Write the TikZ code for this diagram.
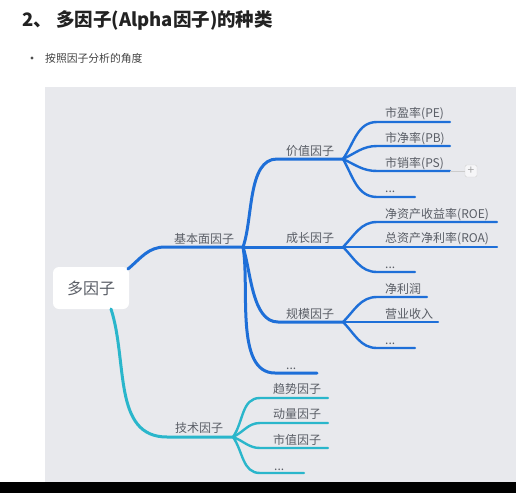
\documentclass[tikz,border=0pt]{standalone}
\usepackage{fontspec}
\setmainfont{Noto Sans CJK SC}
\definecolor{panelgray}{HTML}{E8E9ED}
\definecolor{mainblue}{HTML}{1E6FD8}
\definecolor{techcyan}{HTML}{2AB6CB}
\definecolor{txtgray}{HTML}{5A5E66}
\definecolor{titleblack}{HTML}{222222}

\begin{document}
\begin{tikzpicture}[x=1pt,y=-1pt]
				\tikzstyle{every node} = [inner sep=0pt,text=txtgray];
				\tikzstyle{lbl} = [anchor=base west,font=\fontsize{12}{13}\selectfont];
				\tikzstyle{trunk} = [line width=3pt,draw=mainblue,line cap=round];
				\tikzstyle{twig} = [line width=2.4pt,draw=mainblue,line cap=round];
				\tikzstyle{techtrunk} = [line width=3pt,draw=techcyan,line cap=round];
				\tikzstyle{techtwig} = [line width=2.4pt,draw=techcyan,line cap=round];
				% page, panel and bottom bar
				\useasboundingbox (0,0) rectangle (516,493);
				\fill[white] (0,0) rectangle (516,493);
				\fill[panelgray] (45,87) rectangle (516,482);
				\fill[black] (0,482) rectangle (516,493);
				% heading
				\node[anchor=west,text=titleblack,font=\bfseries\fontsize{18.5}{20}\selectfont] (title) at (22,20) {2、\ 多因子(Alpha因子)的种类};
				\node[circle,fill=titleblack!80,minimum size=3.4pt] (dot) at (32,58) {};
				\node[anchor=west,text=titleblack!85,font=\fontsize{10.8}{12}\selectfont] (sub) at (45,58) {按照因子分析的角度};
				% root
				\node[fill=white,rounded corners=6pt,minimum width=76pt,minimum height=42pt,font=\fontsize{16}{18}\selectfont] (root) at (91,288) {多因子};
				% coordinates of the branches
				\coordinate (rootA) at (128,269);
				\coordinate (rootB) at (111,309);
				\coordinate (fundS) at (165,247);
				\coordinate (fundJ) at (243,247);
				\coordinate (valS) at (277,159);
				\coordinate (valJ) at (343,159);
				\coordinate (grwJ) at (343,247);
				\coordinate (sizS) at (278,322);
				\coordinate (sizJ) at (343,322);
				\coordinate (fdS) at (275,373);
				\coordinate (fdE) at (317,373);
				\coordinate (pe1) at (377,122);  \coordinate (pe2) at (450,122);
				\coordinate (pb1) at (377,146);  \coordinate (pb2) at (450,146);
				\coordinate (ps1) at (377,171);  \coordinate (ps2) at (450,171);
				\coordinate (vd1) at (377,197);  \coordinate (vd2) at (415,197);
				\coordinate (roe1) at (377,222); \coordinate (roe2) at (497,222);
				\coordinate (roa2) at (497,247);
				\coordinate (gd1) at (377,272);  \coordinate (gd2) at (415,272);
				\coordinate (np1) at (377,297);  \coordinate (np2) at (427,297);
				\coordinate (rev2) at (438,322);
				\coordinate (sd1) at (377,348);  \coordinate (sd2) at (415,348);
				\coordinate (techS) at (167,437);
				\coordinate (techJ) at (233,437);
				\coordinate (tr1) at (260,398);  \coordinate (tr2) at (328,398);
				\coordinate (mo1) at (260,423);  \coordinate (mo2) at (328,423);
				\coordinate (mv1) at (260,448);  \coordinate (mv2) at (328,448);
				\coordinate (td1) at (260,473);  \coordinate (td2) at (304,473);
				% fundamental branch
				\draw[trunk] (rootA) to[out=40,in=180] (fundS) -- (fundJ);
				\draw[trunk] (fundJ) to[out=70,in=180,looseness=0.8] (valS) -- (valJ);
				\draw[trunk] (fundJ) -- (grwJ);
				\draw[trunk] (fundJ) to[out=-72,in=180,looseness=0.8] (sizS) -- (sizJ);
				\draw[trunk] (fundJ) to[out=-80,in=180,looseness=0.8] (fdS) -- (fdE);
				\draw[twig] (valJ) to[out=55,in=180] (pe1) -- (pe2);
				\draw[twig] (valJ) to[out=25,in=180] (pb1) -- (pb2);
				\draw[twig] (valJ) to[out=-25,in=180] (ps1) -- (ps2);
				\draw[twig] (valJ) to[out=-60,in=180] (vd1) -- (vd2);
				\draw[twig] (grwJ) to[out=45,in=180] (roe1) -- (roe2);
				\draw[twig] (grwJ) -- (roa2);
				\draw[twig] (grwJ) to[out=-45,in=180] (gd1) -- (gd2);
				\draw[twig] (sizJ) to[out=45,in=180] (np1) -- (np2);
				\draw[twig] (sizJ) -- (rev2);
				\draw[twig] (sizJ) to[out=-45,in=180] (sd1) -- (sd2);
				% collapse button
				\node[draw=gray!35,fill=white!60!panelgray,rounded corners=1.5pt,minimum size=12pt,text=gray!70,font=\fontsize{12}{12}\selectfont] (fold) at (471,171) {+};
				\draw[gray!40,line width=0.8pt] (ps2) -- (fold.west);
				% technical branch
				\draw[techtrunk] (rootB) to[out=-72,in=180] (techS) -- (techJ);
				\draw[techtwig] (techJ) to[out=55,in=180] (tr1) -- (tr2);
				\draw[techtwig] (techJ) to[out=25,in=180] (mo1) -- (mo2);
				\draw[techtwig] (techJ) to[out=-20,in=180] (mv1) -- (mv2);
				\draw[techtwig] (techJ) to[out=-55,in=180] (td1) -- (td2);
				% labels
				\node[lbl] (fund) at (174,243) {基本面因子};
				\node[lbl] (val) at (286,155) {价值因子};
				\node[lbl] (grw) at (286,242) {成长因子};
				\node[lbl] (siz) at (286,318) {规模因子};
				\node[lbl] (fdots) at (286,369) {...};
				\node[lbl] (pe) at (385,117) {市盈率(PE)};
				\node[lbl] (pb) at (385,142) {市净率(PB)};
				\node[lbl] (ps) at (385,167) {市销率(PS)};
				\node[lbl] (vdots) at (385,192) {...};
				\node[lbl] (roe) at (385,218) {净资产收益率(ROE)};
				\node[lbl] (roa) at (385,242) {总资产净利率(ROA)};
				\node[lbl] (gdots) at (385,268) {...};
				\node[lbl] (np) at (385,293) {净利润};
				\node[lbl] (rev) at (385,318) {营业收入};
				\node[lbl] (sdots) at (385,344) {...};
				\node[lbl] (tech) at (175,432) {技术因子};
				\node[lbl] (trend) at (273,393) {趋势因子};
				\node[lbl] (mom) at (273,418) {动量因子};
				\node[lbl] (mval) at (273,444) {市值因子};
				\node[lbl] (tdots) at (274,470) {...};
			\end{tikzpicture}
\end{document}
